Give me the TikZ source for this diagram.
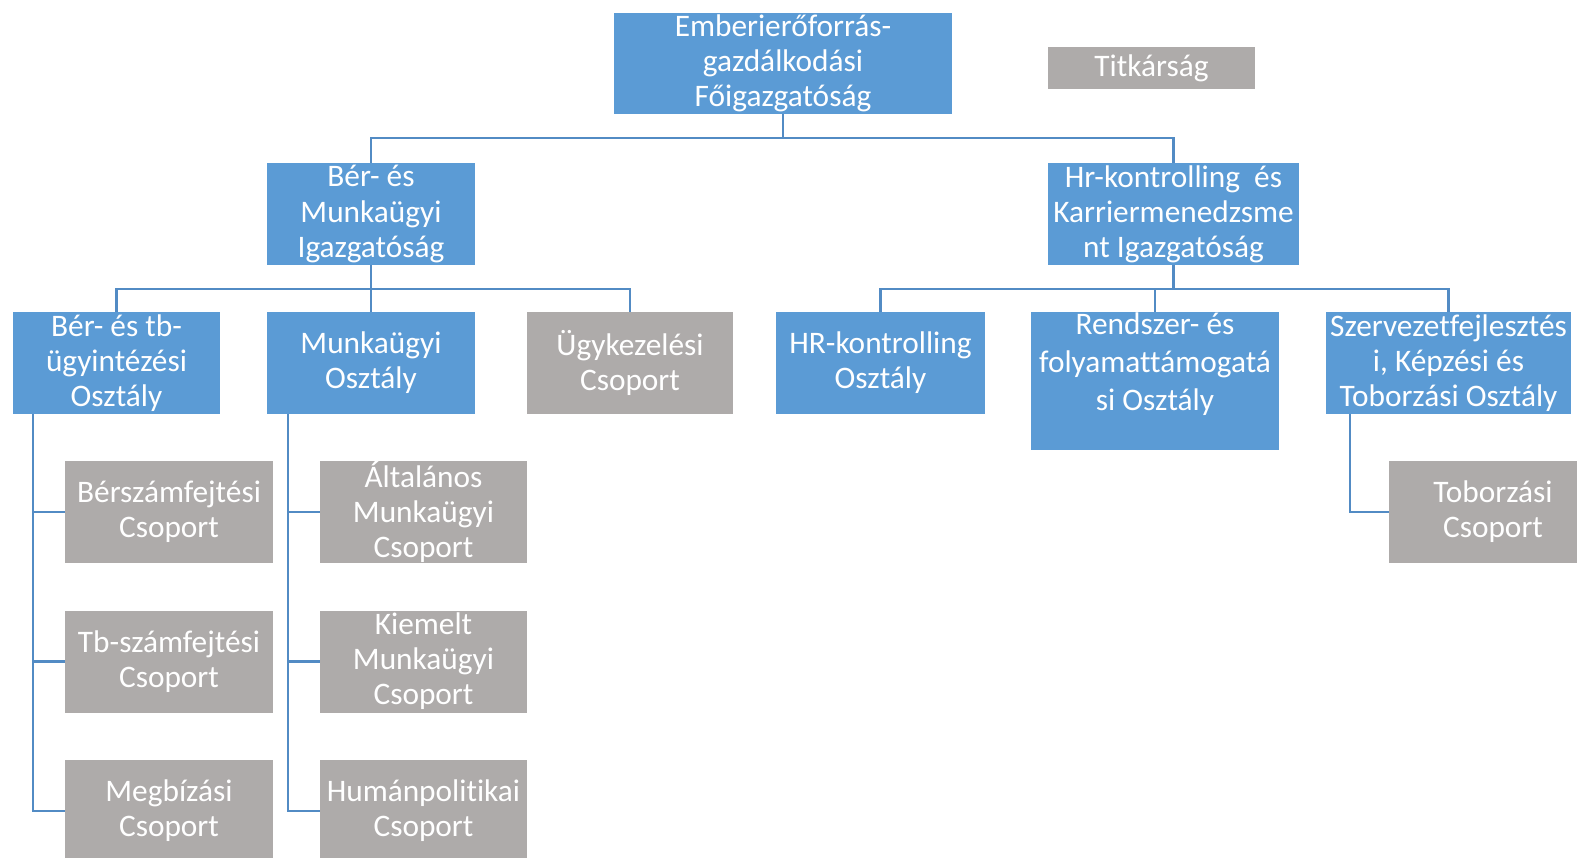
\documentclass[tikz,border=0pt]{standalone}
\usepackage{fontspec}
\setmainfont{Carlito}[Ligatures={NoCommon,NoContextual}]
\definecolor{boxblue}{RGB}{91,155,213}
\definecolor{boxgray}{RGB}{174,171,170}
\definecolor{lineblue}{RGB}{82,139,196}
\def\px{0.75pt}
\begin{document}
\begin{tikzpicture}[x=0.75pt,y=-0.75pt,
    unit/.style={fill=boxblue,text=white,align=center,inner sep=0pt,
      minimum width=208*\px,minimum height=102*\px,
      font=\fontsize{23.5}{26.3}\selectfont},
    group/.style={unit,fill=boxgray},
    conn/.style={draw=lineblue,line width=2pt}]
  \useasboundingbox (0,0) rectangle (1577,857);
  % top level
  \node[unit,minimum width=338*\px,minimum height=101*\px] (fo) at (783,63.5)
    {Emberierőforrás-\\gazdálkodási\\Főigazgatóság};
  \node[group,minimum width=207*\px,minimum height=42*\px] (titk) at (1151.5,68) {Titkárság};
  % directorates
  \node[unit] (bmi) at (371,214) {Bér- és\\Munkaügyi\\Igazgatóság};
  \node[unit,minimum width=251*\px] (hrk) at (1173.5,214) {Hr-kontrolling\ \ és\\Karriermenedzsme\\nt Igazgatóság};
  % departments
  \node[unit,minimum width=207*\px] (bt) at (116.5,363) {Bér- és tb-\\ügyintézési\\Osztály};
  \node[unit] (mo) at (371,363) {Munkaügyi\\Osztály};
  \node[group,minimum width=206*\px] (uk) at (630,363) {Ügykezelési\\Csoport};
  \node[unit,minimum width=209*\px] (hro) at (880.5,363) {HR-kontrolling\\Osztály};
  \node[unit,minimum width=248*\px,minimum height=138*\px,
    font=\fontsize{23.5}{28.5}\selectfont] (rf) at (1155,381)
    {Rendszer- és\\folyamattámogatá\\si Osztály\\ \mbox{}};
  \node[unit,minimum width=245*\px] (sz) at (1448.5,363) {Szervezetfejlesztés\\i, Képzési és\\Toborzási Osztály};
  % groups
  \node[group] (bsz) at (169,512) {Bérszámfejtési\\Csoport};
  \node[group] (tbsz) at (169,661.5) {Tb-számfejtési\\Csoport};
  \node[group] (megb) at (169,811) {Megbízási\\Csoport};
  \node[group,minimum width=207*\px] (alt) at (423.5,512) {Általános\\Munkaügyi\\Csoport};
  \node[group,minimum width=207*\px] (kiem) at (423.5,661.5) {Kiemelt\\Munkaügyi\\Csoport};
  \node[group,minimum width=207*\px] (hum) at (423.5,811) {Humánpolitikai\\Csoport};
  \node[group] (tob) at (1493,512) {Toborzási\\Csoport};
  % buses
  \coordinate (bus1) at (0,138);
  \coordinate (bus2) at (0,289);
  \coordinate (btsp) at (33,414);
  \coordinate (mosp) at (288,414);
  \coordinate (szsp) at (1350,414);
  \draw[conn] (fo.south) -- (fo.south |- bus1);
  \draw[conn] (bmi.north) -- (bmi.north |- bus1) -- (hrk.north |- bus1) -- (hrk.north);
  \draw[conn] (bmi.south) -- (mo.north);
  \draw[conn] (bt.north) -- (bt.north |- bus2) -- (uk.north |- bus2) -- (uk.north);
  \draw[conn] (hrk.south) -- (hrk.south |- bus2);
  \draw[conn] (rf.north) -- (rf.north |- bus2);
  \draw[conn] (hro.north) -- (hro.north |- bus2) -- (sz.north |- bus2) -- (sz.north);
  % spines
  \draw[conn] (btsp) |- (megb.west);
  \draw[conn] (mosp) |- (hum.west);
  \draw[conn] (szsp) |- (tob.west);
  \foreach \c/\s in {bsz/btsp,tbsz/btsp,alt/mosp,kiem/mosp}
    \draw[conn] (\s |- \c.west) -- (\c.west);
\end{tikzpicture}
\end{document}
